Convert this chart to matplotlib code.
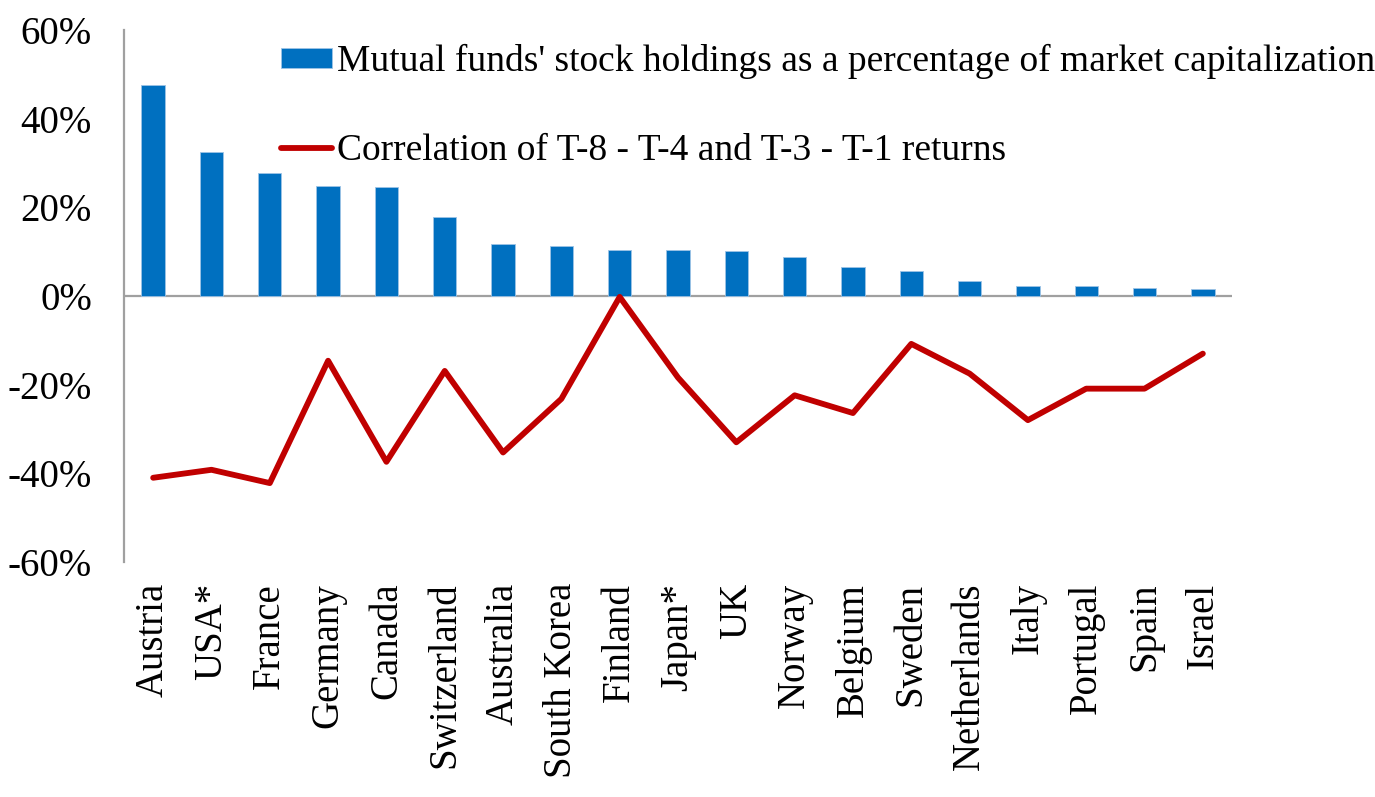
import matplotlib
matplotlib.use("Agg")
import matplotlib.pyplot as plt
from matplotlib.ticker import FuncFormatter
import numpy as np

countries = ["Austria", "USA*", "France", "Germany", "Canada", "Switzerland",
             "Australia", "South Korea", "Finland", "Japan*", "UK", "Norway",
             "Belgium", "Sweden", "Netherlands", "Italy", "Portugal", "Spain", "Israel"]
holdings = [47.6, 32.5, 27.7, 24.7, 24.5, 17.8, 11.7, 11.2, 10.3, 10.3, 10.1, 8.8,
            6.5, 5.6, 3.3, 2.3, 2.3, 1.7, 1.5]
correlation = [-41.0, -39.2, -42.2, -14.6, -37.4, -16.9, -35.3, -23.2, -0.2, -18.4,
               -33.0, -22.4, -26.4, -10.8, -17.5, -28.0, -20.9, -20.9, -13.0]
yticks = [-60, -40, -20, 0, 20, 40, 60]
legend_labels = ["Mutual funds' stock holdings as a percentage of market capitalization",
                 "Correlation of T-8 - T-4 and T-3 - T-1 returns"]

plt.rcParams['font.family'] = ['Liberation Serif', 'DejaVu Serif']
FS = 28

fig = plt.figure(figsize=(13.75, 7.97), dpi=100)
ax = fig.add_axes([124/1375, 1-562/797, (1232-124)/1375, (562-30)/797])

x = np.arange(len(countries))
bars = ax.bar(x, holdings, width=0.4, color="#0070C0", edgecolor="#9DC3E6", linewidth=0.6,
              label=legend_labels[0], zorder=2)
line, = ax.plot(x, correlation, color="#C00000", lw=4.2, solid_joinstyle='round',
                solid_capstyle='round', label=legend_labels[1], zorder=3)
ax.axhline(0, color="#A0A0A0", lw=1.6, zorder=1)

ax.set_xlim(-0.5, len(countries) - 0.5)
ax.set_ylim(-60, 60)
ax.set_yticks(yticks)
ax.yaxis.set_major_formatter(FuncFormatter(lambda v, p: f"{v:.0f}%"))
ax.set_xticks(x)
ax.set_xticklabels(countries, rotation=90, ha='center', va='top')

for s in ['top', 'right', 'bottom']:
    ax.spines[s].set_visible(False)
ax.spines['left'].set_color("#A0A0A0")
ax.spines['left'].set_linewidth(1.6)

ax.tick_params(axis='y', length=0, pad=23, labelsize=FS)
ax.tick_params(axis='x', length=0, pad=15, labelsize=FS)

leg = ax.legend(handles=[bars, line], labels=legend_labels,
                loc='upper left', bbox_to_anchor=(281/1375, 1-44/797),
                bbox_transform=fig.transFigure, frameon=False, fontsize=27,
                borderpad=0, borderaxespad=0, labelspacing=1.45,
                handlelength=1.35, handleheight=0.45, handletextpad=0.15)

fig.savefig("out.png", dpi=100)
